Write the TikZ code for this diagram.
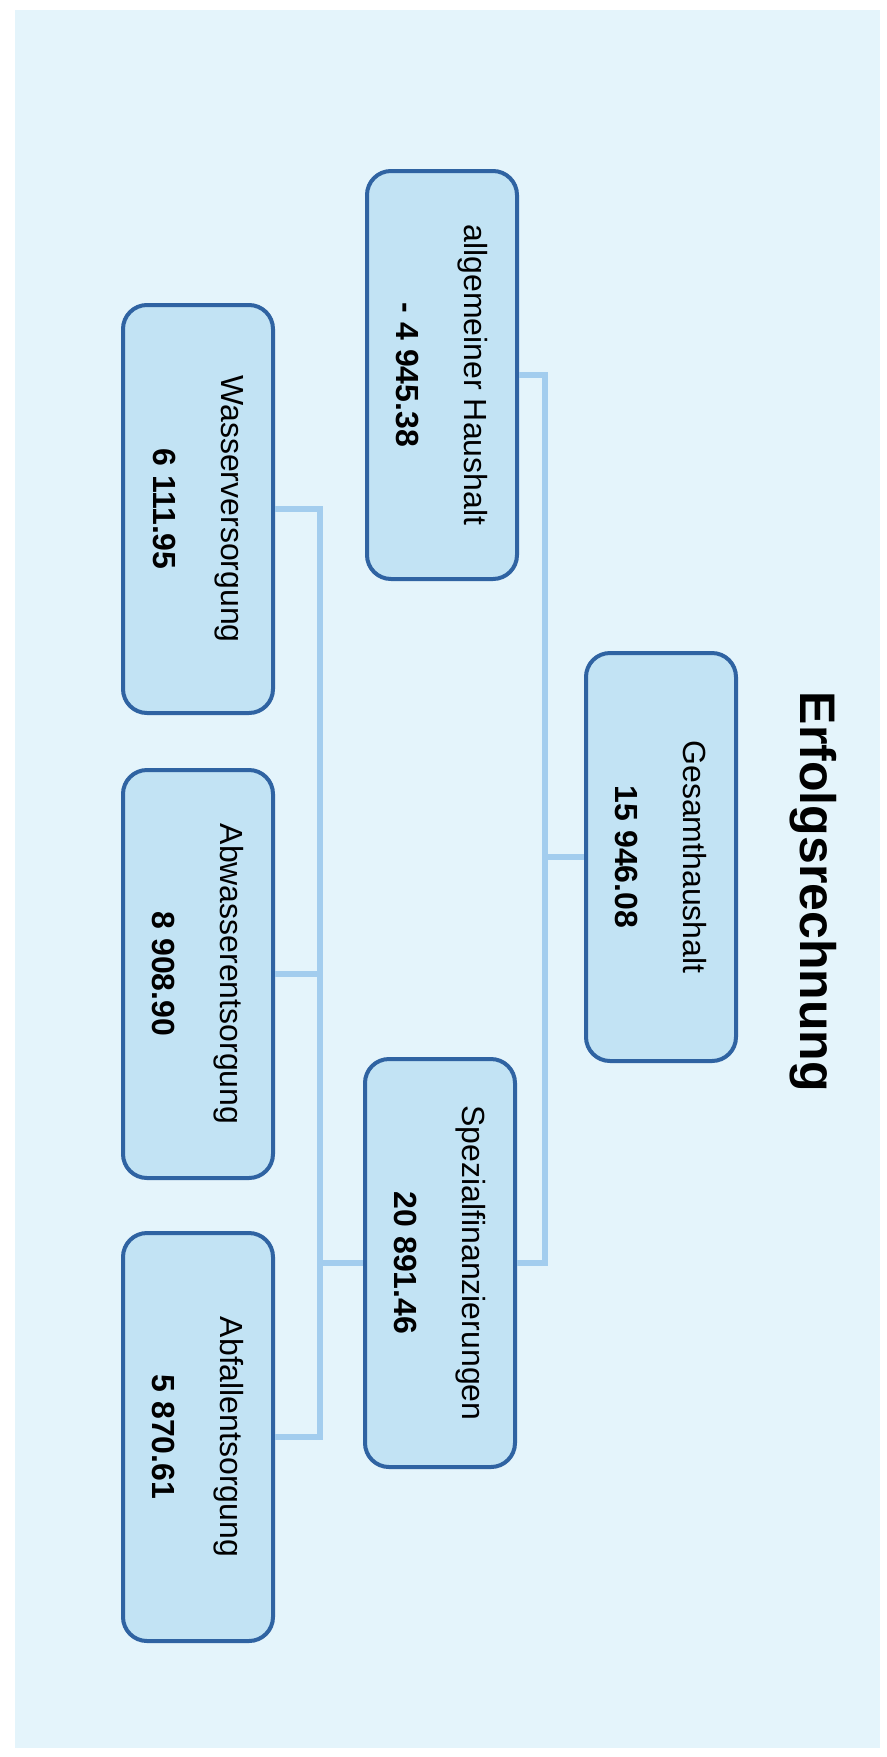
\documentclass[tikz,border=0pt]{standalone}
\usepackage{fontspec}
\setmainfont{Liberation Sans}
\definecolor{paper}{HTML}{E4F4FB}
\definecolor{boxfill}{HTML}{C2E3F4}
\definecolor{boxline}{HTML}{2F63A2}
\definecolor{linkblue}{HTML}{A3CDEE}
\tikzset{account/.style={draw=boxline,line width=2pt,fill=boxfill,rounded corners=12pt,
    minimum width=204pt,minimum height=75pt,align=center,font=\fontsize{16}{34}\selectfont},
  link/.style={draw=linkblue,line width=3pt}}

\begin{document}
\begin{tikzpicture}[x=0.5pt,y=0.5pt,rotate=-90,transform shape]
            \fill[white] (0,0) rectangle (1757,887);
            \useasboundingbox (0,0) rectangle (1757,887);
            \fill[paper] (10,15) rectangle (1748,880);
            \node (title) at (892,813) {\fontsize{25}{30}\selectfont\bfseries Erfolgsrechnung};
            % first level
            \node[account] (gesamt) at (857,661) {Gesamthaushalt\\\textbf{15 946.08}};
            \node[account] (allg) at (375,442) {allgemeiner Haushalt\\\textbf{- 4 945.38}};
            \node[account] (spez) at (1263,440) {Spezialfinanzierungen\\\textbf{20 891.46}};
            % second level
            \node[account] (wasser) at (509,198) {Wasserversorgung\\\textbf{6 111.95}};
            \node[account] (abwasser) at (974,198) {Abwasserentsorgung\\\textbf{8 908.90}};
            \node[account] (abfall) at (1437,198) {Abfallentsorgung\\\textbf{5 870.61}};
            \coordinate (bus1) at (857,545);
            \coordinate (bus2) at (1263,320);
            \draw[link] (gesamt.south) -- (bus1);
            \foreach \n in {allg,spez} {
                \draw[link] (\n.north) |- (bus1);
            }
            \draw[link] (spez.south) -- (bus2);
            \foreach \n in {wasser,abwasser,abfall} {
                \draw[link] (\n.north) |- (bus2);
            }
        \end{tikzpicture}
\end{document}
